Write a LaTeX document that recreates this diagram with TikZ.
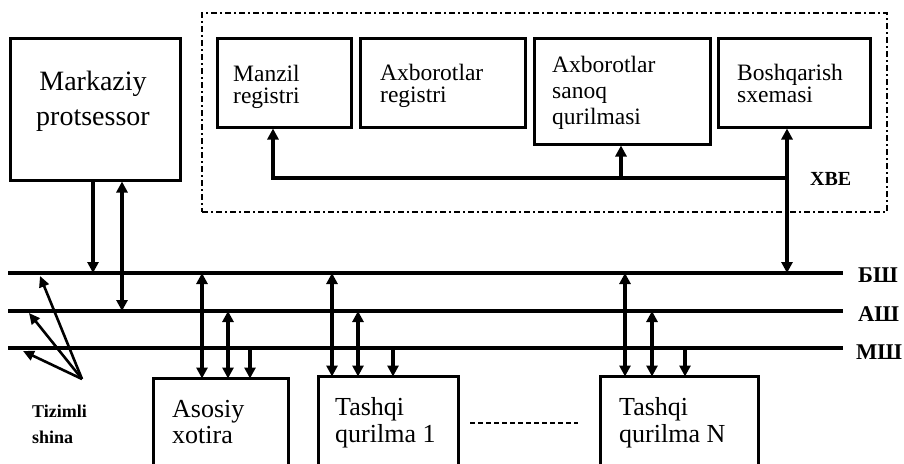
\documentclass[tikz,border=0pt]{standalone}
\usepackage{fontspec}
\setmainfont{Liberation Serif}
\usetikzlibrary{arrows.meta}

\begin{document}
\begin{tikzpicture}[x=1pt,y=-1pt,
  boxline/.style={line width=3pt, line join=miter},
  unit/.style={draw, boxline, rectangle, inner sep=0pt},
  frame/.style={unit, draw=none},
  bus/.style={line width=3.2pt},
  arr/.style={line width=3.2pt, line join=miter, -{Triangle[length=11pt,width=11pt]}},
  dbl/.style={line width=3.2pt, {Triangle[length=11pt,width=11pt]}-{Triangle[length=11pt,width=11pt]}},
  ptr/.style={line width=2.6pt, -{Triangle[length=11pt,width=10pt]}},
  grp/.style={line width=2pt, dash pattern=on 6pt off 3pt on 2pt off 3pt},
  big/.style={anchor=base, inner sep=0pt, font=\fontsize{28}{32}\selectfont},
  txt/.style={anchor=base west, inner sep=0pt, font=\fontsize{23.5}{26}\selectfont},
  btxt/.style={anchor=base west, inner sep=0pt, font=\fontsize{26}{28}\selectfont},
  lbl/.style={anchor=base west, inner sep=0pt, font=\bfseries\fontsize{20}{22}\selectfont},
  blbl/.style={anchor=base west, inner sep=0pt, font=\bfseries\fontsize{22.5}{24}\selectfont},
  small/.style={anchor=base west, inner sep=0pt, font=\bfseries\fontsize{18}{20}\selectfont}]
\useasboundingbox (0,0) rectangle (904,463);

% processor
\node[unit, minimum width=170pt, minimum height=142pt] (cpu) at (95,109) {};
\node[big] (cpu1) at (93,90) {Markaziy};
\node[big] (cpu2) at (93,125) {protsessor};

% peripheral unit group (dash-dotted frame)
\node[draw, grp, rectangle, inner sep=0pt, minimum width=685pt, minimum height=199pt] (xbe) at (544.5,112.5) {};
\node[unit, minimum width=134pt, minimum height=89pt] (reg1) at (284,82.5) {};
\node[unit, minimum width=165pt, minimum height=89pt] (reg2) at (442.5,82.5) {};
\node[unit, minimum width=176pt, minimum height=106pt] (cnt) at (622,91) {};
\node[unit, minimum width=152pt, minimum height=89pt] (ctl) at (794,82.5) {};

\node[txt] (r1a) at (233,81) {Manzil};
\node[txt] (r1b) at (233,103) {registri};
\node[txt] (r2a) at (380,80) {Axborotlar};
\node[txt] (r2b) at (380,102) {registri};
\node[txt] (c1a) at (552,72) {Axborotlar};
\node[txt] (c1b) at (552,98) {sanoq};
\node[txt] (c1c) at (552,124) {qurilmasi};
\node[txt] (k1a) at (737,80) {Boshqarish};
\node[txt] (k1b) at (737,102) {sxemasi};
\node[lbl] (xbel) at (810,185) {XBE};

% internal link of the group
\coordinate (j0) at (787,178);
\coordinate (ja) at (273,178);
\coordinate (jb) at (621,178);
\draw[arr] (j0) -- (ja) -- (ja |- reg1.south);
\draw[arr] (jb) -- (jb |- cnt.south);

% system bus lines
\coordinate (b1l) at (8,273);   \coordinate (b1r) at (843,273);
\coordinate (b2l) at (8,311);   \coordinate (b2r) at (843,311);
\coordinate (b3l) at (8,348);   \coordinate (b3r) at (843,348);
\draw[bus] (b1l) -- (b1r);
\draw[bus] (b2l) -- (b2r);
\draw[bus] (b3l) -- (b3r);
\node[blbl] (bsh) at (858,282) {БШ};
\node[blbl] (ash) at (858,321) {АШ};
\node[blbl] (msh) at (856,359) {МШ};

% processor to bus
\coordinate (pc1) at (93,273);
\coordinate (pc2) at (122,311);
\draw[arr] (pc1 |- cpu.south) -- (pc1);
\draw[dbl] (pc2) -- (pc2 |- cpu.south);

% control circuit to bus
\coordinate (pk) at (787,273);
\draw[dbl] (pk) -- (pk |- ctl.south);

% memory and external devices (boxes run off the lower edge)
\node[frame, minimum width=132pt, minimum height=100pt] (mem) at (221,430) {};
\node[frame, minimum width=137pt, minimum height=100pt] (io1) at (388.5,428) {};
\node[frame, minimum width=155pt, minimum height=100pt] (ioN) at (679.5,428) {};
\draw[boxline] (mem.south west) -- (mem.north west) -- (mem.north east) -- (mem.south east);
\draw[boxline] (io1.south west) -- (io1.north west) -- (io1.north east) -- (io1.south east);
\draw[boxline] (ioN.south west) -- (ioN.north west) -- (ioN.north east) -- (ioN.south east);

\node[btxt] (m1a) at (172,417) {Asosiy};
\node[btxt] (m1b) at (172,443) {xotira};
\node[btxt] (i1a) at (335,415) {Tashqi};
\node[btxt] (i1b) at (335,442) {qurilma 1};
\node[btxt] (iNa) at (619,415) {Tashqi};
\node[btxt] (iNb) at (619,442) {qurilma N};

\coordinate (d1) at (470,423);
\coordinate (d2) at (578,423);
\draw[line width=2.4pt, dash pattern=on 5pt off 3pt] (d1) -- (d2);

% taps from the bus lines to the devices
\coordinate (m1) at (202,273);
\coordinate (m2) at (228,311);
\coordinate (m3) at (250,348);
\draw[dbl] (m1) -- (m1 |- mem.north);
\draw[dbl] (m2) -- (m2 |- mem.north);
\draw[arr] (m3) -- (m3 |- mem.north);

\coordinate (e1) at (332,273);
\coordinate (e2) at (358,311);
\coordinate (e3) at (393,348);
\draw[dbl] (e1) -- (e1 |- io1.north);
\draw[dbl] (e2) -- (e2 |- io1.north);
\draw[arr] (e3) -- (e3 |- io1.north);

\coordinate (n1) at (625,273);
\coordinate (n2) at (652,311);
\coordinate (n3) at (685,348);
\draw[dbl] (n1) -- (n1 |- ioN.north);
\draw[dbl] (n2) -- (n2 |- ioN.north);
\draw[arr] (n3) -- (n3 |- ioN.north);

% system bus pointer
\coordinate (tz) at (82,379);
\coordinate (p1) at (40,276);
\coordinate (p2) at (29,313);
\coordinate (p3) at (23,351);
\draw[ptr] (tz) -- (p1);
\draw[ptr] (tz) -- (p2);
\draw[ptr] (tz) -- (p3);
\node[small] (tz1) at (32,417) {Tizimli};
\node[small] (tz2) at (32,443) {shina};
\end{tikzpicture}
\end{document}
